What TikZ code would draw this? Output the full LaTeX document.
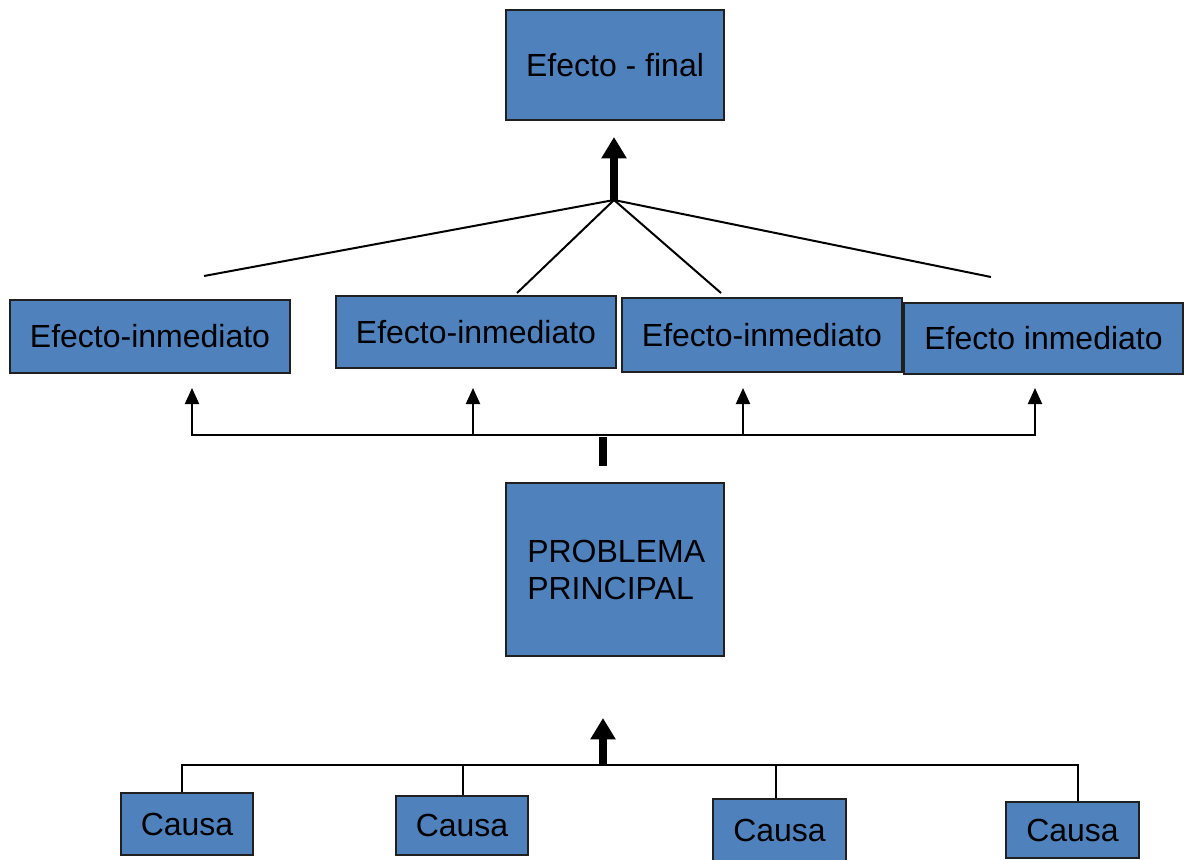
\documentclass[tikz,border=0pt]{standalone}
\usepackage{fontspec}
\setmainfont{Liberation Sans}
\usetikzlibrary{arrows.meta}
\definecolor{boxblue}{HTML}{4F81BD}
\definecolor{boxline}{HTML}{202020}
\begin{document}
\begin{tikzpicture}[x=0.75pt,y=-0.75pt,
  bx/.style={draw=boxline,line width=1.2pt,fill=boxblue,inner sep=0pt,font=\fontsize{24}{27.7}\selectfont},
  thin/.style={line width=1.5pt},
  thinarr/.style={line width=1.5pt,-{Triangle[width=10.5pt,length=12pt]}},
  thickarr/.style={line width=6pt,-{Triangle[width=18pt,length=16pt]}}]
\useasboundingbox (0,0) rectangle (1185,860);
% boxes
\node[bx,minimum width=218*0.75pt,minimum height=110*0.75pt] (ef) at (615,65) {Efecto - final};
\node[bx,minimum width=280*0.75pt,minimum height=73*0.75pt] (e1) at (150,336.5) {Efecto-inmediato};
\node[bx,minimum width=280*0.75pt,minimum height=72*0.75pt] (e2) at (476,332) {Efecto-inmediato};
\node[bx,minimum width=280*0.75pt,minimum height=74*0.75pt] (e3) at (762,335) {Efecto-inmediato};
\node[bx,minimum width=279*0.75pt,minimum height=71*0.75pt] (e4) at (1043.5,338.5) {Efecto inmediato};
\node[bx,minimum width=218*0.75pt,minimum height=173*0.75pt] (pp) at (615,569.5) {};
\node[font=\fontsize{24}{27.7}\selectfont,align=left,anchor=west,inner sep=0pt] (ppt) at (527,570) {PROBLEMA\\PRINCIPAL};
\node[bx,minimum width=132*0.75pt,minimum height=62*0.75pt] (c1) at (187,824) {Causa};
\node[bx,minimum width=132*0.75pt,minimum height=59*0.75pt] (c2) at (462,825.5) {Causa};
\node[bx,minimum width=133*0.75pt,minimum height=62*0.75pt] (c3) at (779.5,830) {Causa};
\node[bx,minimum width=133*0.75pt,minimum height=56*0.75pt] (c4) at (1072.5,830) {Causa};
% top fan
\coordinate (apex) at (614,200);
\coordinate (t1) at (204,276);
\coordinate (t2) at (517,293);
\coordinate (t3) at (721,293);
\coordinate (t4) at (991,277);
\draw[thin] (t1) -- (apex) -- (t4);
\draw[thin] (t2) -- (apex) -- (t3);
\coordinate (toptip) at (614,137);
\draw[thickarr] (apex) -- (toptip);
% middle bus
\coordinate (m1) at (192,435);
\coordinate (m2) at (473,435);
\coordinate (m3) at (743,435);
\coordinate (m4) at (1035,435);
\draw[thin,line cap=rect] (m1) -- (m4);
\foreach \i in {1,2,3,4} {
  \draw[thinarr] (m\i) -- ++(0,-47);
}
\coordinate (stubtop) at (603,437);
\draw[line width=6pt] (stubtop) -- (603,466);
% bottom bus
\coordinate (b1) at (182,765);
\coordinate (b2) at (463,765);
\coordinate (b3) at (776,765);
\coordinate (b4) at (1078,765);
\draw[thin] (b1 |- c1.north) -- (b1) -- (b4) -- (b4 |- c4.north);
\draw[thin] (b2) -- (b2 |- c2.north);
\draw[thin] (b3) -- (b3 |- c3.north);
\coordinate (bstart) at (603,766);
\coordinate (btip) at (603,718);
\draw[thickarr] (bstart) -- (btip);
\end{tikzpicture}
\end{document}
